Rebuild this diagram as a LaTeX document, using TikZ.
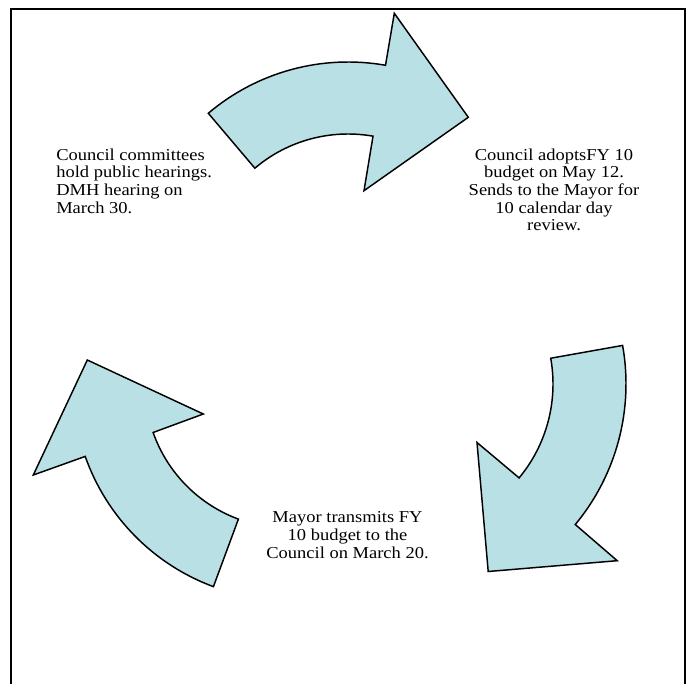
\documentclass[tikz,border=0pt]{standalone}
\usepackage{fontspec}
\setmainfont{Liberation Serif}[FakeStretch=1.11]
\usetikzlibrary{calc}
\definecolor{arrowfill}{RGB}{185,224,228}
\tikzset{
  cyclearrow/.style={draw=black, line width=1.1pt, fill=arrowfill, line join=miter},
  frameline/.style={draw=black, line width=1.6pt},
  label/.style={inner sep=0pt, font=\fontsize{12.5}{13.2}\selectfont}
}
\begin{document}
\begin{tikzpicture}[x=0.75pt, y=-0.75pt]
\useasboundingbox (0,0) rectangle (688,684);
% frame (open at the bottom)
\coordinate (fbl) at (11,690);
\coordinate (ftl) at (11,9);
\coordinate (ftr) at (685,9);
\coordinate (fbr) at (685,690);
\draw[frameline] (fbl) -- (ftl) -- (ftr) -- (fbr);
% centres of the three curved arrows
\coordinate (ct) at (348,278);
\coordinate (cr) at (406,384);
\coordinate (cl) at (288,385);
% top arrow
\coordinate (tob) at (394.3,13.3);
\coordinate (ttip) at (468.3,117.3);
\coordinate (tib) at (364,190.7);
\draw[cyclearrow] ($(ct)+(-130.3:216)$) arc[start angle=-130.3, end angle=-80, radius=216]
  -- (tob) -- (ttip) -- (tib) -- ($(ct)+(-80:144)$)
  arc[start angle=-80, end angle=-130.3, radius=144] -- cycle;
% right arrow
\coordinate (rob) at (617.2,560.7);
\coordinate (rtip) at (488.2,571.5);
\coordinate (rib) at (477,442.5);
\draw[cyclearrow] ($(cr)+(-10.1:220)$) arc[start angle=-10.1, end angle=39.7, radius=220]
  -- (rob) -- (rtip) -- (rib) -- ($(cr)+(39.7:147)$)
  arc[start angle=39.7, end angle=-10.1, radius=147] -- cycle;
% left arrow
\coordinate (lob) at (33.3,475);
\coordinate (ltip) at (87.3,360);
\coordinate (lib) at (203.3,414);
\draw[cyclearrow] ($(cl)+(110.3:215)$) arc[start angle=110.3, end angle=160.6, radius=215]
  -- (lob) -- (ltip) -- (lib) -- ($(cl)+(160.6:143)$)
  arc[start angle=160.6, end angle=110.3, radius=143] -- cycle;
% texts
\node[label, align=left, anchor=north west] (hear) at (56,148.5)
  {Council committees\\hold public hearings.\\DMH hearing on\\March 30.};
\node[label, align=center, anchor=north] (adopt) at (554,148.5)
  {Council adoptsFY 10\\budget on May 12.\\Sends to the Mayor for\\10 calendar day\\review.};
\node[label, align=center, anchor=north] (transmit) at (347.5,511.6)
  {Mayor transmits FY\\10 budget to the\\Council on March 20.};
\end{tikzpicture}
\end{document}
